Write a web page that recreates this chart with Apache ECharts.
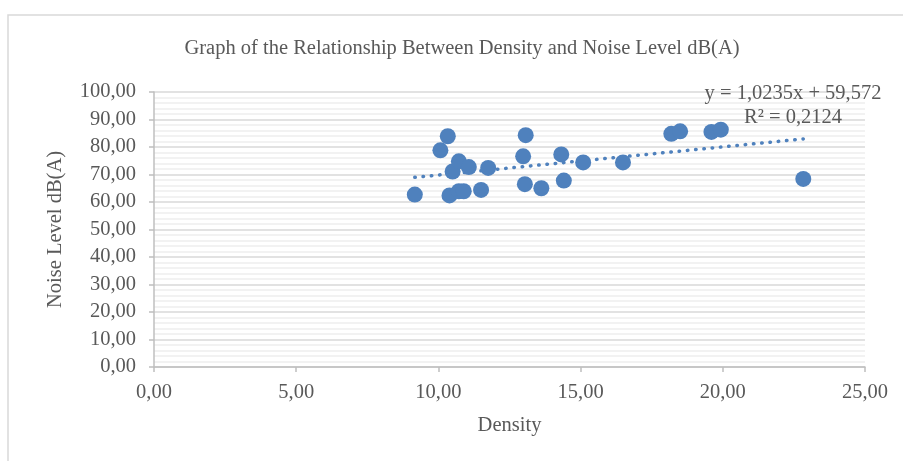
<!DOCTYPE html>
<html>
<head>
<meta charset="utf-8">
<script src="https://cdn.jsdelivr.net/npm/echarts@6/dist/echarts.min.js"></script>
<style>html,body{margin:0;padding:0;background:#fff;}#c{width:903px;height:461px;}</style>
</head>
<body>
<div id="c"></div>
<script>
const titleText = 'Graph of the Relationship Between Density and Noise Level dB(A)';
const xAxisName = 'Density';
const yAxisName = 'Noise Level dB(A)';
const density = [9.17, 10.07, 10.33, 10.39, 10.50, 10.72, 10.72, 10.89, 11.07, 11.50, 11.75,
  13.07, 12.98, 13.04, 13.62, 14.32, 14.41, 15.09, 16.49, 18.19, 18.50, 19.60, 19.93, 22.83];
const noise = [62.7, 78.8, 83.9, 62.4, 71.1, 74.8, 63.9, 63.9, 72.7, 64.4, 72.4,
  84.3, 76.6, 66.5, 65.0, 77.3, 67.8, 74.4, 74.4, 84.8, 85.7, 85.5, 86.3, 68.4];
const trendX = [9.17, 22.83];
const trendY = [68.96, 82.94];
const equationLines = ['y = 1,0235x + 59,572', 'R² = 0,2124'];

const font = 'Liberation Serif';
const txt = '#595959';
const fmt = v => v.toFixed(2).replace('.', ',');

const chart = echarts.init(document.getElementById('c'));
chart.setOption({
  animation: false,
  backgroundColor: '#fff',
  title: {
    text: titleText, left: 457, top: 33, textAlign: 'center',
    textStyle: { fontFamily: font, fontSize: 20.5, fontWeight: 'normal', color: txt }
  },
  grid: { left: 154, right: 38, top: 92, bottom: 94 },
  xAxis: {
    type: 'value', min: 0, max: 25, interval: 5,
    name: xAxisName, nameLocation: 'middle', nameGap: 48,
    nameTextStyle: { fontFamily: font, fontSize: 20.5, color: txt },
    axisLine: { show: true, lineStyle: { color: '#bfbfbf', width: 1.5 } },
    axisTick: { show: true, length: 5, lineStyle: { color: '#bfbfbf', width: 1.5 } },
    axisLabel: { fontFamily: font, fontSize: 20.5, color: txt, margin: 15, formatter: fmt },
    splitLine: { show: false }
  },
  yAxis: {
    type: 'value', min: 0, max: 100, interval: 10,
    name: yAxisName, nameLocation: 'middle', nameGap: 88, nameRotate: 90,
    nameTextStyle: { fontFamily: font, fontSize: 20.5, color: txt },
    axisLine: { show: true, lineStyle: { color: '#bfbfbf', width: 1.5 } },
    axisTick: { show: true, length: 5, lineStyle: { color: '#bfbfbf', width: 1.5 } },
    axisLabel: { fontFamily: font, fontSize: 20.5, color: txt, margin: 18, formatter: fmt },
    splitLine: { show: true, lineStyle: { color: '#d9d9d9', width: 1.5 } },
    minorTick: { show: false, splitNumber: 5 },
    minorSplitLine: { show: true, lineStyle: { color: '#eeeeee', width: 1.5 } }
  },
  graphic: [
    { type: 'rect', shape: { x: 8, y: 15, width: 1000, height: 1000 }, style: { fill: 'none', stroke: '#d9d9d9', lineWidth: 1.5 }, silent: true, z: -1 },
    { type: 'text', x: 793, y: 94, style: { text: equationLines[0], font: '20.5px ' + font, fill: txt, align: 'center', verticalAlign: 'middle' }, z: 10 },
    { type: 'text', x: 793, y: 118, style: { text: equationLines[1], font: '20.5px ' + font, fill: txt, align: 'center', verticalAlign: 'middle' }, z: 10 }
  ],
  series: [
    {
      type: 'line',
      data: trendX.map((x, i) => [x, trendY[i]]),
      symbol: 'none',
      lineStyle: { color: '#4f81bd', width: 3.5, type: [0.5, 7.8], cap: 'round' },
      z: 3
    },
    {
      type: 'scatter',
      data: density.map((x, i) => [x, noise[i]]),
      symbolSize: 16,
      itemStyle: { color: '#4f81bd', opacity: 1 },
      z: 4
    }
  ]
});
</script>
</body>
</html>
